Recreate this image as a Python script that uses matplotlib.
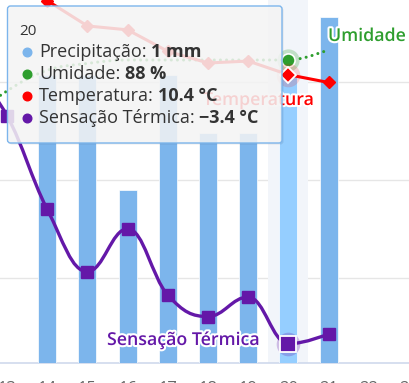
import numpy as np
import matplotlib
matplotlib.use("Agg")
import matplotlib.pyplot as plt
from matplotlib.path import Path
from matplotlib.patches import PathPatch, FancyBboxPatch
from matplotlib.transforms import Affine2D
import matplotlib.patheffects as pe

plt.rcParams['font.family'] = ['Open Sans', 'DejaVu Sans']

# dados (hora, chuva, umidade, temperatura, sensacao termica)
horas = [12, 13, 14, 15, 16, 17, 18, 19, 20, 21]
precipitacao = [0, 0, 1.0, 1.0, 0.6, 1.0, 0.8, 0.8, 1.0, 1.2]
umidade = [70, 79, 85, 87, 88, 88, 88, 88, 88, 91]
temperatura = [15.6, 15.1, 14.2, 12.9, 12.7, 11.6, 11.0, 11.1, 10.4, 10.0]
sensacao = [11.0, 8.3, 3.5, 0.3, 2.5, -0.9, -2.0, -1.0, -3.4, -2.9]
ticks_x = [13, 14, 15, 16, 17, 18, 19, 20, 21, 22, 23]
hora_sel = 20

azul = '#7cb5ec'
azul_hover = '#95ceff'
verde = '#2e9e2e'
vermelho = '#ff0000'
roxo = '#6418a8'

W, H = 409, 383


def spline_path(xs, ys, smoothing=1.5):
    # curva tipo "spline" do Highcharts (bezier cubica)
    n = len(xs)
    conts = []
    for i in range(n):
        if i == 0 or i == n - 1:
            conts.append(((xs[i], ys[i]), (xs[i], ys[i])))
            continue
        lx, ly = xs[i - 1], ys[i - 1]
        nx, ny = xs[i + 1], ys[i + 1]
        px, py = xs[i], ys[i]
        d = smoothing + 1
        lcx = (smoothing * px + lx) / d
        lcy = (smoothing * py + ly) / d
        rcx = (smoothing * px + nx) / d
        rcy = (smoothing * py + ny) / d
        corr = (rcy - lcy) * (rcx - px) / (rcx - lcx) + py - rcy
        lcy += corr
        rcy += corr
        if lcy > ly and lcy > py:
            lcy = max(ly, py); rcy = 2 * py - lcy
        elif lcy < ly and lcy < py:
            lcy = min(ly, py); rcy = 2 * py - lcy
        if rcy > ny and rcy > py:
            rcy = max(ny, py); lcy = 2 * py - rcy
        elif rcy < ny and rcy < py:
            rcy = min(ny, py); lcy = 2 * py - rcy
        conts.append(((lcx, lcy), (rcx, rcy)))
    verts = [(xs[0], ys[0])]
    codes = [Path.MOVETO]
    for i in range(1, n):
        verts += [conts[i - 1][1], conts[i][0], (xs[i], ys[i])]
        codes += [Path.CURVE4] * 3
    return Path(verts, codes)


fig = plt.figure(figsize=(W / 100, H / 100), dpi=100)
ax = fig.add_axes([0, 20 / H, 1, 363 / H])
x0 = 13 - 7.0 / 40.23
ax.set_xlim(x0, x0 + W / 40.23)
ax.set_ylim(-85.5 / 19.5, 277.5 / 19.5)

# grade e eixo x
ax.set_yticks([0, 5, 10])
ax.yaxis.grid(True, color='#e6e6e6', lw=1.0)
ax.set_axisbelow(True)
ax.tick_params(axis='y', length=0, labelleft=False)
ax.set_xticks(ticks_x)
ax.set_xticklabels([str(t) for t in ticks_x])
ax.tick_params(axis='x', length=0, pad=13, labelsize=12, labelcolor='#666666')
for s in ['top', 'left', 'right']:
    ax.spines[s].set_visible(False)
ax.spines['bottom'].set_color('#ccd6eb')
ax.spines['bottom'].set_linewidth(1.1)
ax.axvspan(hora_sel - 0.5, hora_sel + 0.5, color='#f2f5fa', zorder=0.8, lw=0)


def twin():
    a = ax.twinx()
    a.yaxis.set_visible(False)
    for s in a.spines.values():
        s.set_visible(False)
    return a


# precipitacao
ax_p = twin()
ax_p.set_ylim(0, 363 / 288)
cores = [azul_hover if h == hora_sel else azul for h in horas]
ax_p.bar(horas, precipitacao, width=0.45, color=cores, edgecolor='white', lw=0.5)

# umidade
ax_h = twin()
ax_h.set_ylim(0, 363 / (303 / 88))
ax_h.add_patch(PathPatch(spline_path(horas, umidade), fill=False, edgecolor=verde,
                         lw=2.2, linestyle=(0, (0.01, 2.0)), capstyle='round'))
i = horas.index(hora_sel)
ax_h.plot(hora_sel, umidade[i], 'o', ms=16, color=verde, alpha=0.25, mec='none')
ax_h.plot(hora_sel, umidade[i], 'o', ms=9.5, color=verde, mec='white', mew=1.2)

# temperatura e sensacao termica
ax_l = twin()
ax_l.set_ylim(ax.get_ylim())
ax_l.plot(horas, temperatura, color=vermelho, lw=2.2, marker='D', ms=5.9, zorder=3)
ax_l.plot(hora_sel, temperatura[i], 'o', ms=17, color=vermelho, alpha=0.15, mec='none')
ax_l.plot(hora_sel, temperatura[i], 'D', ms=7.8, color=vermelho, mec='white', mew=1.3, zorder=4)
ax_l.add_patch(PathPatch(spline_path(horas, sensacao), fill=False, edgecolor=roxo,
                         lw=2.4, capstyle='round', zorder=5))
ax_l.plot(horas, sensacao, ls='none', marker='s', ms=8.4, color=roxo, zorder=6)
ax_l.plot(hora_sel, sensacao[i], 'o', ms=17, color=roxo, alpha=0.25, mec='none', zorder=6)
ax_l.plot(hora_sel, sensacao[i], 's', ms=11.5, color=roxo, mec='white', mew=1.3, zorder=7)

# rotulos das series
px = Affine2D().scale(1 / W, -1 / H).translate(0, 1) + fig.transFigure
halo = [pe.withStroke(linewidth=3, foreground='white')]
fig.text(328, 41, 'Umidade', transform=px, color=verde, fontsize=12.8,
         fontweight='semibold', va='baseline', path_effects=halo, zorder=5)
fig.text(203, 105, 'Temperatura', transform=px, color=vermelho, fontsize=12.8,
         fontweight='semibold', va='baseline', path_effects=halo, zorder=5)
fig.text(107, 345, 'Sensação Térmica', transform=px, color=roxo, fontsize=12.8,
         fontweight='semibold', va='baseline', path_effects=halo, zorder=5)

# tooltip
fig.patches.append(FancyBboxPatch((9, 7.5), 274.5, 137, boxstyle='round,pad=0,rounding_size=3',
                                  transform=px, facecolor='black', alpha=0.08, lw=0, zorder=9))
fig.patches.append(FancyBboxPatch((7.5, 6), 274.5, 137, boxstyle='round,pad=0,rounding_size=3',
                                  transform=px, facecolor=(247 / 255, 247 / 255, 247 / 255, 0.85),
                                  edgecolor=azul, lw=1.0, zorder=10))
fig.text(19, 35, str(hora_sel), transform=px, color='#333333', fontsize=11,
         va='baseline', zorder=11)

linhas = [
    (azul, 'Precipitação:', f'{precipitacao[i]:g} mm', 57),
    (verde, 'Umidade:', f'{umidade[i]} %', 79),
    (vermelho, 'Temperatura:', f'{temperatura[i]:g} °C', 101),
    (roxo, 'Sensação Térmica:', f'{sensacao[i]:g} °C'.replace('-', '−'), 123),
]
renderer = fig.canvas.get_renderer()
for cor, nome, valor, yb in linhas:
    fig.add_artist(plt.Line2D([27], [yb - 5], transform=px, marker='o', ms=6.2, color=cor,
                              ls='none', zorder=11))
    t = fig.text(39, yb, nome, transform=px, color='#333333', fontsize=13,
                 va='baseline', zorder=11)
    bb = t.get_window_extent(renderer=renderer)
    fig.text(bb.x1 + 4.5, yb, valor, transform=px, color='#333333', fontsize=13,
             fontweight='bold', va='baseline', zorder=11)

fig.savefig('out.png', dpi=100)
